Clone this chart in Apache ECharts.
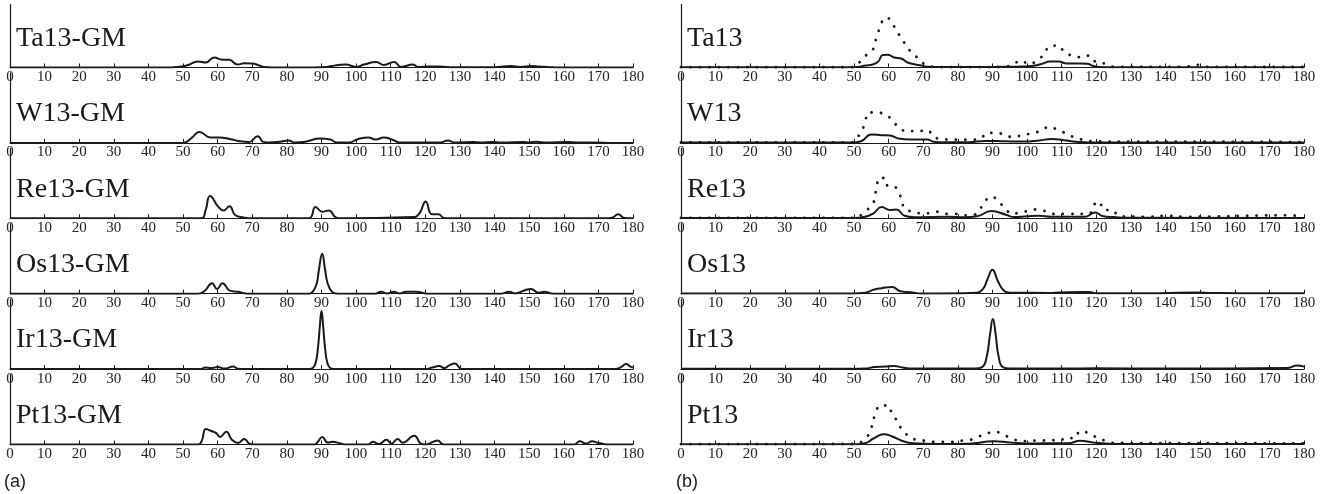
<!DOCTYPE html>
<html><head><meta charset="utf-8">
<script src="https://cdn.jsdelivr.net/npm/echarts@6/dist/echarts.min.js"></script>
<style>html,body{margin:0;padding:0;background:#fff}#c{width:1329px;height:494px}</style>
</head><body><div id="c"></div>
<script>
// ---------- data (x = angle in degrees, y = intensity, arbitrary units) ----------
const xMin = 0, xMax = 180, xStep = 10;
const namesA = ['Ta13-GM','W13-GM','Re13-GM','Os13-GM','Ir13-GM','Pt13-GM'];
const namesB = ['Ta13','W13','Re13','Os13','Ir13','Pt13'];
const panelTags = ['(a)','(b)'];

const ta13GM = [[0,0],[46,0],[48,0.5],[51,2],[54.3,6],[56.6,5],[59,10],[61,8],[63.3,7.7],[65.8,3],[67.7,4.3],[70,4],[72,2],[73.4,0.5],[76,0],[88,0],[91.3,0.5],[93,1.5],[95,2.5],[97,3],[100,0.5],[102.3,3],[105.8,5.5],[108,2.5],[111,5.5],[113,0.5],[116.4,3],[118,0.5],[121,1],[123.7,1],[127,0.3],[140,0.3],[144.8,1.5],[147.5,0.5],[150.5,1.5],[152.8,1],[156,0.3],[158,0],[180,0]];
const w13GM = [[0,0],[50,0],[52.5,5],[54.7,11],[58,5.4],[60.4,5.4],[63.5,4],[66.5,1.6],[69,0.8],[71.6,6.7],[73.2,1],[75,0.4],[78,1.2],[80.5,2.4],[82.3,0.4],[85.3,1.2],[89.6,4.3],[92.6,3.4],[94.4,0.4],[98,0.4],[100.5,3.7],[103.5,5.4],[105.7,3.4],[108,5.4],[110.8,2.7],[112.6,0.4],[124,0.3],[126.6,2.4],[128.4,0.3],[133.9,1],[136,0.3],[139.3,1],[142,0.3],[148.4,1],[150,0.5],[152,1.2],[155,0.3],[161.2,1],[164,0.3],[167.8,0.4],[175,0],[180,0]];
const re13GM = [[0,0],[55.2,0],[56.5,8],[57.8,22.4],[60.2,11.4],[61.7,7.7],[63.4,12.1],[65.1,3],[67.5,0.8],[69.9,0],[86.3,0],[88.3,11.4],[90.2,6.6],[92.1,7.7],[94.1,1],[95.5,0],[116.5,1.2],[118.3,5],[120.1,16.9],[121.9,4],[123.8,4],[125.3,0.4],[127,0],[173,0],[174.2,0.8],[175.7,4],[177.5,0.4],[180,0]];
const os13GM = [[0,0],[54.4,0],[56.2,2.7],[58.4,10.5],[59.8,4.8],[61.4,10.5],[63.5,3.1],[65.9,1.9],[67.7,0.5],[69,0],[86.5,0],[87.5,2],[88.6,10],[89.3,25],[90.2,40],[91,25],[91.8,10],[93,2],[94.2,0.3],[95,0],[105.5,0],[107.2,2],[109,0.3],[110.8,2],[112.6,0.3],[114.4,2],[117.4,2],[119.9,0.3],[121,0],[142,0],[144.2,2],[146,0.3],[148.4,3],[150.5,4.8],[152.7,1],[154.5,2],[156.3,0.3],[158,0],[180,0]];
const ir13GM = [[0,0],[55,0],[56.5,1.5],[58,1],[60,2],[62,0.5],[64.5,2.5],[66,0.3],[68,0],[86.5,0],[87.5,1],[88.3,6],[89,22],[89.5,42],[90,58],[90.5,42],[91,22],[91.7,6],[92.5,1],[93.5,0],[120,0],[122,1.5],[124,3],[125.5,1],[127,4],[128.5,5.5],[130,1],[131,0],[175,0],[176.5,2],[178,5],[179.3,2.5],[180,1.5]];
const pt13GM = [[0,0],[54.4,0],[55.4,3.6],[56.6,15.5],[58,13.7],[59.5,11.6],[60.7,7.6],[62.5,12.7],[64.1,4.8],[65.9,1.6],[67.7,5.6],[69.2,0.9],[70.5,0],[88,0],[89,3],[90.2,7.6],[91.8,2],[93.2,2.7],[95.6,0.9],[97,0],[103.5,0],[104.8,2.7],[106.6,0.5],[108.8,4.8],[110.2,0.9],[112,5.6],[113.4,1.8],[116.8,8.8],[118.7,0.9],[120,0],[122.3,2.7],[123.5,4],[125.3,0],[163,0],[164.6,3.2],[166.4,0.9],[168.2,3.2],[169.7,1.8],[171.5,0.5],[173,0],[180,0]];

const ta13 = [[0,0.3],[48,0.3],[51,0.6],[53.4,2],[55.4,3],[57,6],[58.3,12.5],[59.7,12.7],[61.6,10],[63.6,9],[65.5,5],[67.4,3.3],[69.4,2],[71.3,0.7],[74,0.4],[90,0.5],[95,0.7],[98.4,1],[101.3,1.5],[104.2,3.5],[106.6,6],[109,6],[111.5,4],[114.9,4],[117.3,3.7],[119.2,1.5],[120.7,0.5],[125,0.3],[180,0.3]];
const ta13Dot = [[0,0.3],[49,0.3],[50,0.6],[51.6,5.3],[53.4,12],[55.4,17.7],[56.3,27.7],[57,35.3],[57.8,44],[59.4,50],[61.2,43],[62.6,35],[64.1,27],[65.5,19.3],[67.2,13.7],[68.9,7.7],[70.8,2.7],[73.2,0.6],[75,0.4],[93,0.5],[96,3.3],[98.2,7],[100.6,3.3],[103,7.7],[105,13.7],[106.4,21],[109,22],[110.8,15.3],[113.2,11.7],[116,10.3],[118.1,12],[120,5.3],[122.7,3.7],[125.1,0.7],[145,0.6],[149.7,2.7],[152,0.6],[180,0.5]];
const w13 = [[0,0.3],[49.6,0.3],[52,1.6],[55,8.4],[58,7.7],[60.4,7.4],[62.8,4.4],[66.4,3.4],[71.2,3.4],[73,1.2],[76,0.6],[83.1,0.6],[87.9,2],[93.9,1.6],[98.7,1.4],[103.5,2.4],[107.1,4],[110.7,2.7],[114.2,1.2],[117.8,0.4],[180,0.3]];
const w13Dot = [[0,0.4],[49,0.5],[50.8,5],[52.4,13.4],[53.2,21.6],[54.4,30.4],[56.6,30.2],[59.2,28],[61.4,21.2],[63.4,13.6],[65.8,12],[68.8,11.8],[71.2,12.8],[73,6],[76,3.7],[78.3,3.2],[80.7,3.2],[83.7,3.2],[86.4,4],[88.5,10],[91.3,10],[93.9,7],[96.3,6],[98.9,8.4],[101.7,9.4],[104.2,12.8],[106.5,16],[108.9,12.8],[111.3,9.4],[114,5],[116.6,2.8],[119,1.6],[130,1.2],[150,1.2],[165,1],[180,0.8]];
const re13 = [[0,0.3],[49.6,0.3],[53.2,1.5],[55.6,5],[58,11.3],[60.4,8.2],[62.2,8.8],[64.6,2.5],[67.5,1],[77.1,1.5],[81.9,1],[85.5,2],[89.7,7.2],[93.9,3.5],[96.3,1.2],[99.9,2],[103.5,2.5],[107,1.5],[116.6,1.5],[119.6,5.7],[122,2],[125,1.2],[128.6,0.5],[180,0.4]];
const re13Dot = [[0,0.4],[50,0.5],[53.2,7.2],[55.4,14.5],[56.1,24],[56.6,33],[57.4,40.3],[58.9,40.3],[59.8,32.4],[61.2,32.4],[62.6,27.7],[63.8,18.3],[64.6,9.8],[67,6.6],[69.4,5],[71.8,5],[74.4,6.6],[76.9,4.4],[79.3,4.4],[81.9,3],[84.6,3.5],[86.5,9.8],[87.9,17.6],[89.8,21.4],[91.9,16],[93.7,9.8],[95.7,4.4],[97.8,5.7],[100.2,7.2],[102.5,8.8],[104.9,7.6],[107.4,4.4],[112.4,4.4],[117.8,4.4],[119,12.3],[120.8,16.7],[122.2,8.2],[124.4,8.2],[126.8,2],[135,1.5],[140,2.5],[145,1.5],[176,3],[180,1.2]];
const os13 = [[0,0.3],[49.6,0.3],[53.2,1],[55.6,4],[58,5.5],[61,6.7],[63.4,2.5],[66.4,1.5],[69.4,0.3],[80.7,0.5],[85.5,1],[87.3,5],[88.5,14],[90,24],[91.5,13],[93.3,3],[95.1,1],[107,0.8],[111.8,1.5],[117.8,1.6],[120.2,0.5],[138.2,0.5],[148.9,1.2],[153.7,0.8],[166.9,0.5],[180,0.5]];
const ir13 = [[0,0.3],[50,0.3],[53,0.5],[56,2],[59,2.5],[61.5,3.2],[64,1.5],[67,0.5],[85,0.5],[87,2],[88.3,12],[89.3,35],[90.1,50],[90.9,35],[91.8,12],[93,2],[95,0.5],[110,0.5],[120,0.8],[140,0.5],[175,1],[178,3.5],[180,2.5]];
const pt13 = [[0,0.3],[50.8,0.3],[53.2,1.2],[55.6,6],[58.6,10.2],[61,8],[64,3.5],[67,1.2],[73.6,0.5],[83.1,0.8],[90.3,3.2],[95.1,2],[99.9,1],[104.7,1.2],[111.8,1.2],[115.4,3.8],[119,2],[122.6,1],[126.2,0.5],[180,0.4]];
const pt13Dot = [[0,0.4],[50,0.5],[53.2,6],[54.7,14],[56.2,31],[57.7,39],[59.8,39],[61,30.4],[62.6,23],[64,14],[65.8,8.6],[67.9,4.8],[70.6,3.8],[73,2.5],[78.3,2.5],[81.1,3.8],[83.7,4.8],[86.1,8],[88.5,11.2],[90.9,12.5],[93.3,9.6],[96,5.4],[98.7,3.2],[101,3.8],[103.8,3.8],[106.5,4.5],[109.2,3.8],[111.5,7],[113.6,6],[115.4,13.4],[117.8,11.2],[120.2,7],[122.6,3.8],[125.6,1.5],[180,1.2]];

const solidA = [ta13GM, w13GM, re13GM, os13GM, ir13GM, pt13GM];
const solidB = [ta13, w13, re13, os13, ir13, pt13];
const dottedB = [ta13Dot, w13Dot, re13Dot, null, null, pt13Dot];

// ---------- layout ----------
const baseline0 = 67.5, rowGap = 75.4;
const colLeft = [10, 681], colWidth = 623;
const ink = '#1a1a1a';
const serif = '"Liberation Serif","Times New Roman",serif';

const grids = [], xAxes = [], yAxes = [], series = [], graphics = [];
let gi = 0;
for (let c = 0; c < 2; c++) {
  for (let r = 0; r < 6; r++) {
    const base = baseline0 + r * rowGap;
    const h = r === 0 ? 63 : 70;
    grids.push({left: colLeft[c], width: colWidth, top: base - h, height: h, containLabel: false});
    xAxes.push({
      type: 'value', gridIndex: gi, min: xMin, max: xMax, interval: xStep,
      axisLine: {show: true, lineStyle: {color: ink, width: 1.2}},
      axisTick: {show: true, inside: true, length: 4, lineStyle: {color: ink, width: 1}},
      axisLabel: {show: true, margin: 2, fontFamily: serif, fontSize: 15, color: '#222', showMinLabel: true, showMaxLabel: true},
      splitLine: {show: false}
    });
    yAxes.push({
      type: 'value', gridIndex: gi, min: 0, max: h,
      axisLine: {show: true, onZero: false, lineStyle: {color: ink, width: 1.2}},
      axisTick: {show: false}, axisLabel: {show: false}, splitLine: {show: false}
    });
    const solid = c === 0 ? solidA[r] : solidB[r];
    series.push({
      type: 'line', xAxisIndex: gi, yAxisIndex: gi, data: solid,
      showSymbol: false, smooth: 0.5, silent: true,
      lineStyle: {color: ink, width: 2}
    });
    if (c === 1 && dottedB[r]) {
      series.push({
        type: 'line', xAxisIndex: gi, yAxisIndex: gi, data: dottedB[r],
        showSymbol: false, smooth: 0.5, silent: true, z: 3,
        lineStyle: {color: ink, width: 2.8, type: [0.1, 9.4], cap: 'round'}
      });
    }
    graphics.push({
      type: 'text', left: c === 0 ? 16 : 687, top: base - 43,
      style: {text: c === 0 ? namesA[r] : namesB[r], font: '28px ' + serif, fill: ink}
    });
    gi++;
  }
}
graphics.push({type: 'text', left: 4, top: 473, style: {text: panelTags[0], font: '18px "Liberation Sans",Arial,sans-serif', fill: ink}});
graphics.push({type: 'text', left: 676, top: 473, style: {text: panelTags[1], font: '18px "Liberation Sans",Arial,sans-serif', fill: ink}});

const chart = echarts.init(document.getElementById('c'), null, {renderer: 'canvas'});
chart.setOption({
  animation: false,
  backgroundColor: '#fff',
  grid: grids, xAxis: xAxes, yAxis: yAxes, series: series, graphic: graphics
});
</script>
</body></html>
